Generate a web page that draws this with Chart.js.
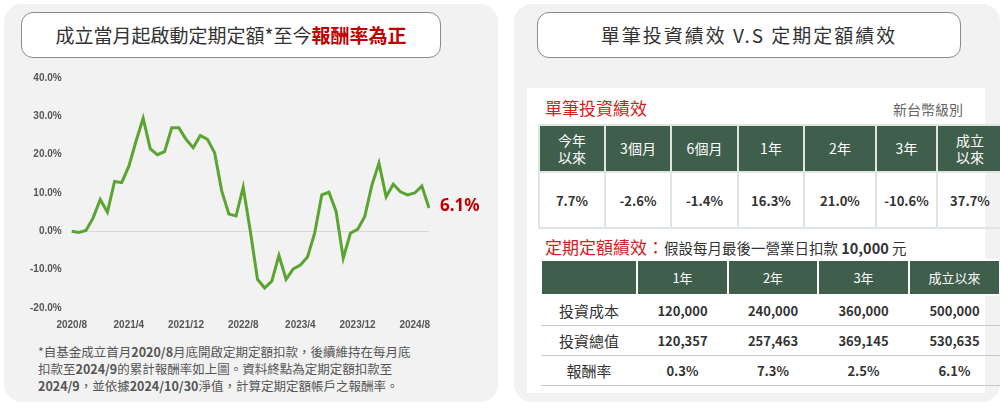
<!DOCTYPE html>
<html><head><meta charset="utf-8">
<script src="https://cdn.jsdelivr.net/npm/chart.js@4"></script>
<style>
body{margin:0;width:1000px;height:417px;background:#fff;font-family:"Noto Sans CJK TC","Noto Sans",sans-serif;position:relative;overflow:hidden}
.panel{position:absolute;background:#f2f2f2;border-radius:18px}
.title{position:absolute;background:#fff;border:1.5px solid #8a8a8a;border-radius:12px;text-align:center;font-size:19px;color:#333;line-height:44px}
.note{position:absolute;left:38px;top:343px;font-size:12.5px;line-height:17px;color:#555}
.note b{color:#555}
table{position:absolute;border-collapse:collapse;text-align:center;font-weight:bold;color:#333;table-layout:fixed}
.t1 th{background:#3f5e4c;color:#fff;font-size:14px;border:2px solid #dfe5e1;line-height:17px;font-weight:normal}
.t1 td{border:2px solid #dfe5e1;font-size:13px;height:52px}
.t2 th{background:#3f5e4c;color:#fff;font-size:13px;border:2px solid #fff;height:31px;font-weight:normal}
.t2 td{border-bottom:1.5px solid #c8c8c8;font-size:13px;height:27px}
.t2 td:first-child{font-weight:normal;font-size:15px}
</style></head><body>
<div class="panel" style="left:4px;top:4px;width:494px;height:398px"></div>
<div class="panel" style="left:514px;top:4px;width:486px;height:398px"></div>
<div class="title" style="left:21px;top:12px;width:418px;height:44px">成立當月起啟動定期定額*至今<b style="color:#c00000">報酬率為正</b></div>
<div class="title" style="left:537px;top:12px;width:422px;height:44px;letter-spacing:2px">單筆投資績效 V.S 定期定額績效</div>
<div style="position:absolute;left:20px;top:62px;width:475px;height:272px"><canvas id="c"></canvas></div>
<div class="note">*自基金成立首月<b>2020/8</b>月底開啟定期定額扣款，後續維持在每月底<br>扣款至<b>2024/9</b>的累計報酬率如上圖。資料終點為定期定額扣款至<br><b>2024/9</b>，並依據<b>2024/10/30</b>淨值，計算定期定額帳戶之報酬率。</div>
<div style="position:absolute;left:527px;top:88px;width:458px;height:305px;background:#fff"></div>
<div style="position:absolute;left:545px;top:95px;font-size:17px;color:#d42020">單筆投資績效</div>
<div style="position:absolute;left:893px;top:99px;font-size:14px;color:#666">新台幣級別</div>
<table class="t1" id="t1" style="left:538px;top:124px;width:441px"></table>
<div style="position:absolute;left:545px;top:234px;font-size:17px;color:#d42020">定期定額績效：<span style="font-size:14.5px;color:#333">假設每月最後一營業日扣款 <b>10,000</b> 元</span></div>
<table class="t2" id="t2" style="left:540px;top:259px;width:441px"></table>
<script>
const months = [];
for (let y = 2020, m = 8; months.length < 51; m++) { if (m > 12) { m = 1; y++; } months.push(y + '/' + m); }
const returns = [0.0,-0.3,0.2,3.5,8.3,5.0,13.0,12.7,17.0,23.5,29.5,21.5,20.0,20.8,27.0,27.0,24.0,21.8,25.0,24.0,20.5,10.5,4.5,4.0,11.5,0.0,-12.5,-14.8,-13.0,-6.3,-12.5,-9.8,-8.8,-6.7,-0.5,9.5,10.2,5.2,-7.0,-0.5,0.5,3.8,12.0,17.8,9.0,12.3,10.3,9.5,10.0,11.8,6.1];
const tickLabels = ['2020/8','2021/4','2021/12','2022/8','2023/4','2023/12','2024/8'];

const lumpHead = ['今年<br>以來','3個月','6個月','1年','2年','3年','成立<br>以來'];
const lumpVals = ['7.7%','-2.6%','-1.4%','16.3%','21.0%','-10.6%','37.7%'];
const dcaHead = ['','1年','2年','3年','成立以來'];
const dcaRows = [
  ['投資成本','120,000','240,000','360,000','500,000'],
  ['投資總值','120,357','257,463','369,145','530,635'],
  ['報酬率','0.3%','7.3%','2.5%','6.1%']
];
// column widths, px
const w1 = [62, 62, 63, 62, 68, 57, 62];
const w2 = [92, 87, 86, 87, 87];
document.getElementById('t1').innerHTML =
  '<tr style="height:47px">' + lumpHead.map((h, i) => '<th style="width:' + w1[i] + 'px">' + h + '</th>').join('') + '</tr>' +
  '<tr>' + lumpVals.map(v => '<td>' + v + '</td>').join('') + '</tr>';
document.getElementById('t2').innerHTML =
  '<tr>' + dcaHead.map((h, i) => '<th style="width:' + w2[i] + 'px">' + h + '</th>').join('') + '</tr>' +
  dcaRows.map(r => '<tr>' + r.map(v => '<td>' + v + '</td>').join('') + '</tr>').join('');

const lastLabel = {
  id: 'lastLabel',
  afterDatasetsDraw(chart) {
    const pt = chart.getDatasetMeta(0).data[returns.length - 1];
    const ctx = chart.ctx;
    ctx.save();
    ctx.font = 'bold 17px "Noto Sans", sans-serif';
    ctx.fillStyle = '#c00000';
    ctx.textBaseline = 'middle';
    ctx.fillText(returns[returns.length - 1].toFixed(1) + '%', pt.x + 11, pt.y - 2);
    ctx.restore();
  }
};

new Chart(document.getElementById('c'), {
  type: 'line',
  data: { labels: months, datasets: [{ data: returns, borderColor: '#5aa532', borderWidth: 3, pointRadius: 0, tension: 0 }] },
  options: {
    responsive: true, maintainAspectRatio: false, animation: false,
    layout: { padding: { right: 66, top: 4 } },
    plugins: { legend: { display: false }, tooltip: { enabled: false } },
    scales: {
      x: {
        grid: { display: false },
        border: { display: false },
        ticks: {
          autoSkip: false, maxRotation: 0, color: '#555', font: { size: 10, weight: 'bold' },
          callback: (v, i) => tickLabels.includes(months[i]) ? months[i] : ''
        }
      },
      y: {
        min: -20, max: 40,
        border: { display: false },
        grid: { color: c => c.tick.value === 0 ? '#d8d8d8' : 'transparent', drawTicks: false },
        ticks: { stepSize: 10, padding: 10, color: '#555', font: { size: 10, weight: 'bold' }, callback: v => v.toFixed(1) + '%' }
      }
    }
  },
  plugins: [lastLabel]
});
</script>
</body></html>
